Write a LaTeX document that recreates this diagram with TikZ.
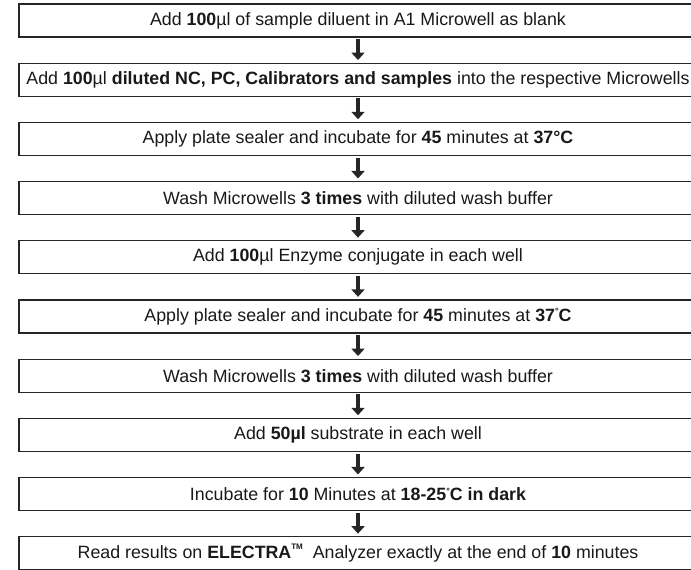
\documentclass[tikz,border=0pt]{standalone}
\usepackage{fontspec}
\setmainfont{Liberation Sans}
\usetikzlibrary{arrows.meta}
\newcommand{\smalldeg}{\raisebox{0.65ex}{\fontsize{9}{9}\selectfont °}}
\newcommand{\tmark}{\raisebox{0.9ex}{\fontsize{8}{8}\selectfont\bfseries TM}}
\begin{document}
\begin{tikzpicture}[x=1pt,y=-1pt,
  stepbox/.style={draw=black!85, line width=1.3pt, minimum width=678pt, minimum height=33pt,
    inner sep=0pt, text=black!90, font=\fontsize{17.8}{20}\selectfont},
  flow/.style={draw=black!85, line width=4.8pt, -{Triangle[width=13pt,length=7.5pt]},
    shorten <=1.5pt, shorten >=2.5pt}]
\useasboundingbox (0,0) rectangle (691,570);
\clip (0,0) rectangle (691,570);
\node[stepbox] (b1) at (358,20.5) {Add \textbf{100}µl of sample diluent in A1 Microwell as blank};
\node[stepbox] (b2) at (358,79.7) {Add \textbf{100}µl \textbf{diluted NC, PC, Calibrators and samples} into the respective Microwells};
\node[stepbox] (b3) at (358,138.9) {Apply plate sealer and incubate for \textbf{45} minutes at \textbf{37°C}};
\node[stepbox] (b4) at (358,198.1) {Wash Microwells \textbf{3 times} with diluted wash buffer};
\node[stepbox] (b5) at (358,257.3) {Add \textbf{100}µl Enzyme conjugate in each well};
\node[stepbox] (b6) at (358,316.5) {Apply plate sealer and incubate for \textbf{45} minutes at \textbf{37\smalldeg C}};
\node[stepbox] (b7) at (358,375.7) {Wash Microwells \textbf{3 times} with diluted wash buffer};
\node[stepbox] (b8) at (358,434.9) {Add \textbf{50µl} substrate in each well};
\node[stepbox] (b9) at (358,494.1) {Incubate for \textbf{10} Minutes at \textbf{18-25\smalldeg C in dark}};
\node[stepbox] (b10) at (358,553.3) {Read results on \textbf{ELECTRA}\tmark\ \ Analyzer exactly at the end of \textbf{10} minutes};
\draw[flow] (b1) -- (b2);
\draw[flow] (b2) -- (b3);
\draw[flow] (b3) -- (b4);
\draw[flow] (b4) -- (b5);
\draw[flow] (b5) -- (b6);
\draw[flow] (b6) -- (b7);
\draw[flow] (b7) -- (b8);
\draw[flow] (b8) -- (b9);
\draw[flow] (b9) -- (b10);
\end{tikzpicture}
\end{document}
